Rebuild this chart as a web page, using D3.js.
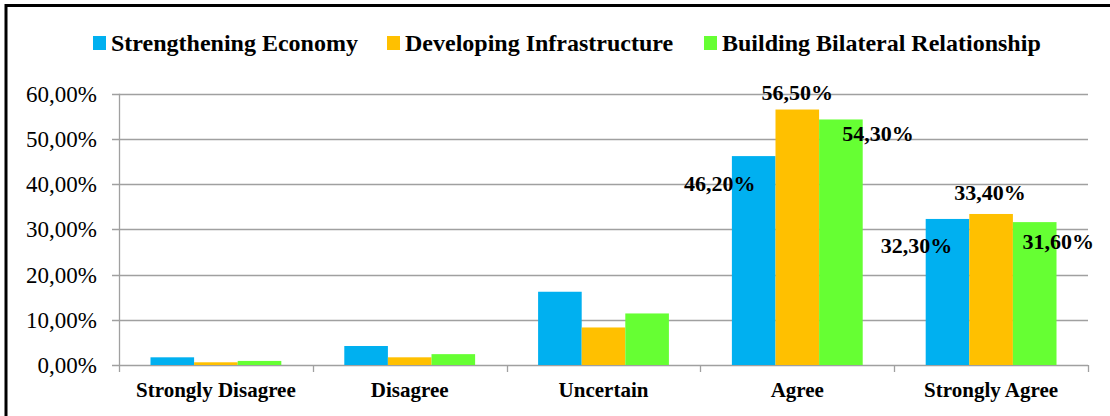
<!DOCTYPE html>
<html><head><meta charset="utf-8">
<script src="https://cdn.jsdelivr.net/npm/d3@7"></script>
<style>body{margin:0;background:#fff}svg{display:block}text{font-family:"Times New Roman","Liberation Serif",Times,serif}</style>
</head><body><svg id="c" width="1110" height="416"></svg>
<script>
const categories = ["Strongly Disagree","Disagree","Uncertain","Agree","Strongly Agree"];
const seriesNames = ["Strengthening Economy","Developing Infrastructure","Building Bilateral Relationship"];
const strengtheningEconomy = [1.7, 4.2, 16.2, 46.2, 32.3];
const developingInfrastructure = [0.6, 1.7, 8.3, 56.5, 33.4];
const buildingBilateral = [0.9, 2.4, 11.4, 54.3, 31.6];
const yTicks = [0,10,20,30,40,50,60];
const colors = ["#00B0F0","#FFC000","#66FF33"];
// labels only on Agree / Strongly Agree; [dx, baseline dy] from bar top-centre
const labelOffsets = {
  "0-3":[-34,35], "1-3":[0,-9.5], "2-3":[37,22],
  "0-4":[-31,34], "1-4":[-1,-14], "2-4":[23.5,27]
};
const series = [strengtheningEconomy, developingInfrastructure, buildingBilateral];
const fmt = v => v.toFixed(2).replace(".", ",") + "%";

const svg = d3.select("#c");
const m = {l:119, r:1088, t:93.7, b:365};
const x0 = d3.scaleBand().domain(categories).range([m.l, m.r]).paddingInner(0.325).paddingOuter(0.1625);
const x1 = d3.scaleBand().domain(d3.range(3)).range([0, x0.bandwidth()]);
const y = d3.scaleLinear().domain([0,60]).range([m.b, m.t]);

svg.append("rect").attr("x",6).attr("y",5.5).attr("width",1120).attr("height",430)
  .attr("fill","none").attr("stroke","#000").attr("stroke-width",3);

svg.append("g").selectAll("line").data(yTicks).join("line")
  .attr("x1",m.l-7).attr("x2",m.r).attr("y1",d=>Math.round(y(d))+0.5).attr("y2",d=>Math.round(y(d))+0.5)
  .attr("stroke","#a0a0a0").attr("stroke-width",1.3);
svg.append("line").attr("x1",m.l+0.5).attr("x2",m.l+0.5).attr("y1",y(60)).attr("y2",m.b+7)
  .attr("stroke","#a0a0a0").attr("stroke-width",1.3);
const step = (m.r-m.l)/categories.length;
svg.append("g").selectAll("line").data(d3.range(1,categories.length+1)).join("line")
  .attr("x1",d=>Math.round(m.l+d*step)+0.5).attr("x2",d=>Math.round(m.l+d*step)+0.5)
  .attr("y1",m.b).attr("y2",m.b+7).attr("stroke","#a0a0a0").attr("stroke-width",1.3);

svg.append("g").selectAll("text").data(yTicks).join("text")
  .attr("x",97).attr("y",d=>y(d)+8).attr("text-anchor","end")
  .attr("font-size",23).attr("fill","#000")
  .text(d=>fmt(d));

const g = svg.append("g");
categories.forEach((c,ci)=>{
  series.forEach((s,si)=>{
    g.append("rect").attr("x",x0(c)+x1(si)).attr("width",x1.bandwidth())
      .attr("y",y(s[ci])).attr("height",m.b-y(s[ci])).attr("fill",colors[si]);
  });
});
categories.forEach((c,ci)=>{
  series.forEach((s,si)=>{
    const off = labelOffsets[si+"-"+ci];
    if(!off) return;
    svg.append("text").attr("x",x0(c)+x1(si)+x1.bandwidth()/2+off[0]).attr("y",y(s[ci])+off[1])
      .attr("text-anchor","middle")
      .attr("font-weight","bold").attr("font-size",22)
      .text(fmt(s[ci]));
  });
});

svg.append("g").selectAll("text").data(categories).join("text")
  .attr("x",d=>x0(d)+x0.bandwidth()/2).attr("y",397).attr("text-anchor","middle")
  .attr("font-weight","bold").attr("font-size",21)
  .text(d=>d);

const legX = [93, 387, 704];
seriesNames.forEach((n,i)=>{
  svg.append("rect").attr("x",legX[i]).attr("y",36).attr("width",13).attr("height",14).attr("fill",colors[i]);
  svg.append("text").attr("x",legX[i]+18).attr("y",51)
    .attr("font-weight","bold").attr("font-size",24)
    .text(n);
});
</script></body></html>
